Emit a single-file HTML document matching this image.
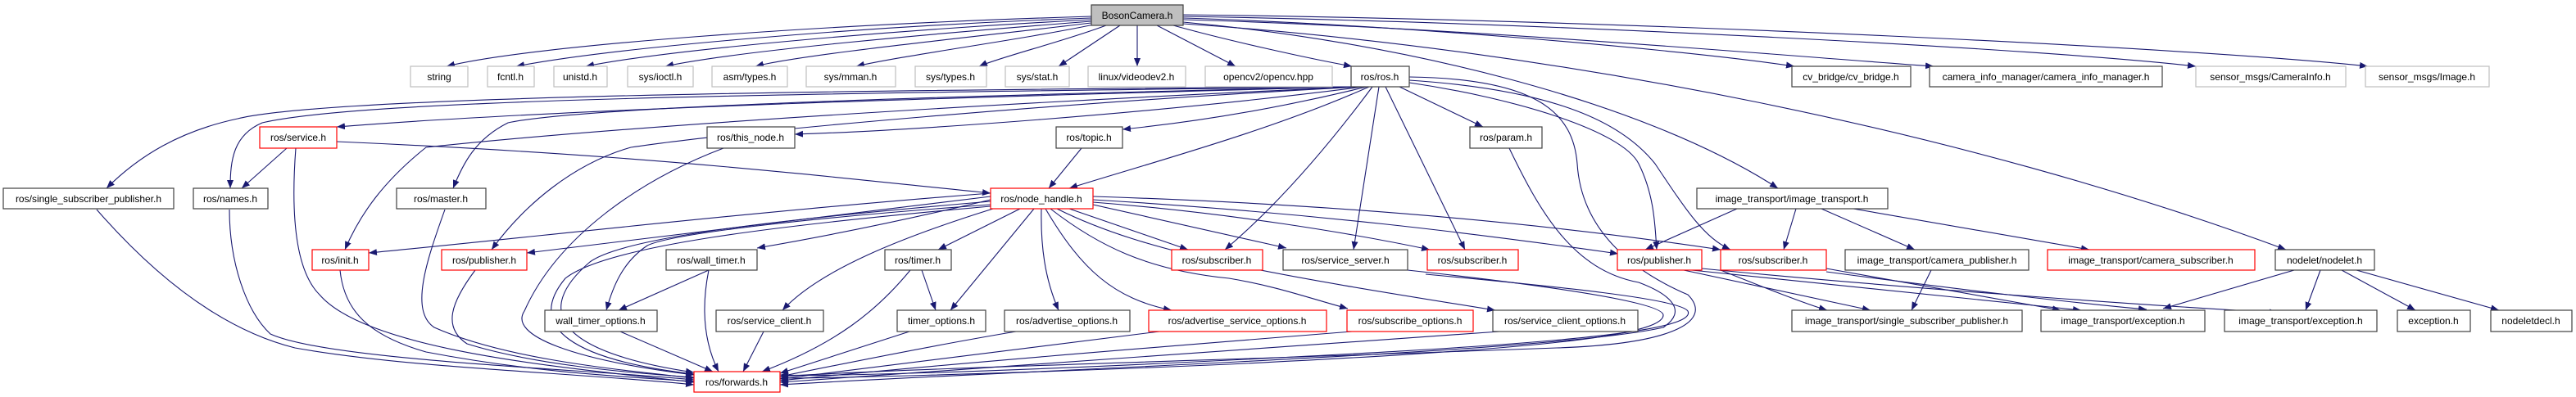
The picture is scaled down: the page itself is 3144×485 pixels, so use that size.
<!DOCTYPE html>
<html><head><meta charset="utf-8"><style>
html,body{margin:0;padding:0;background:#fff;}
svg{display:block;}
text{font-family:"Liberation Sans",Arial,sans-serif;font-size:12px;text-anchor:middle;fill:#000;}
.e{fill:none;stroke:#191970;stroke-width:1.1;marker-end:url(#a);}
.g{fill:#fff;stroke:#bfbfbf;stroke-width:1.2;}
.k{fill:#fff;stroke:#404040;stroke-width:1.2;}
.r{fill:#fff;stroke:#ff0000;stroke-width:1.2;}
</style></head><body>
<svg width="3144" height="485" viewBox="0 0 3144 485" xmlns="http://www.w3.org/2000/svg">
<defs><marker id="a" viewBox="0 0 10 8" refX="10" refY="4" markerWidth="10" markerHeight="8" markerUnits="userSpaceOnUse" orient="auto"><path d="M0,0 L10,4 L0,8 z" fill="#191970"/></marker></defs>
<g>
<!-- BosonCamera edges -->
<path class="e" d="M1332,20 C1000,30 650,55 545,81"/>
<path class="e" d="M1332,22 C1050,32 750,58 630,81"/>
<path class="e" d="M1332,24 C1100,36 820,60 715,81"/>
<path class="e" d="M1332,26 C1150,40 900,62 812,81"/>
<path class="e" d="M1332,28 C1200,44 980,66 922,81"/>
<path class="e" d="M1335,30 C1250,48 1100,68 1045,81"/>
<path class="e" d="M1350,31 C1300,50 1220,70 1195,81"/>
<path class="e" d="M1367,31 L1292,81"/>
<path class="e" d="M1388,31 L1388,81"/>
<path class="e" d="M1412,31 L1508,81"/>
<path class="e" d="M1432,31 C1500,50 1600,72 1650,81"/>
<path class="e" d="M1444,22 C1700,30 2050,60 2190,81"/>
<path class="e" d="M1444,24 C1800,34 2200,70 2360,81"/>
<path class="e" d="M1444,20 C1900,28 2500,60 2680,81"/>
<path class="e" d="M1444,18 C2000,24 2700,60 2890,81"/>
<path class="e" d="M1444,27 C1700,50 2000,120 2170,230"/>
<path class="e" d="M1444,29 C1900,60 2400,160 2790,305"/>
<!-- ros.h edges -->
<path class="e" d="M1652,106 C1200,118 700,132 411,155"/>
<path class="e" d="M1650,106 C1000,114 450,120 320,150 C285,165 281,195 281,230"/>
<path class="e" d="M1649,106 C1000,110 400,118 290,145 C220,160 170,190 130,230"/>
<path class="e" d="M1655,106 C1100,118 700,132 620,150 C580,170 565,200 553,230"/>
<path class="e" d="M1658,106 C1300,122 800,150 520,180 C470,220 440,260 421,305"/>
<path class="e" d="M1661,106 C1300,125 900,160 770,180 C700,200 640,250 600,305"/>
<path class="e" d="M1664,106 C1400,140 1100,160 970,164"/>
<path class="e" d="M1668,106 C1550,135 1450,150 1370,158"/>
<path class="e" d="M1671,106 C1550,160 1400,200 1305,230"/>
<path class="e" d="M1675,106 C1620,180 1560,250 1495,305"/>
<path class="e" d="M1683,106 L1652,305"/>
<path class="e" d="M1691,106 L1788,305"/>
<path class="e" d="M1708,106 L1810,155"/>
<path class="e" d="M1720,101 C1850,120 1980,160 2000,200 C2020,240 2020,280 2022,305"/>
<path class="e" d="M1720,98 C1900,110 1980,150 2020,200 C2060,260 2080,290 2112,305"/>
<path class="e" d="M1720,94 C1880,96 1920,140 1925,200 C1930,280 1990,330 2060,360 C2090,390 2050,420 1900,425 C1500,440 1100,450 952,460"/>
<!-- service.h -->
<path class="e" d="M350,181 L295,230"/>
<path class="e" d="M361,181 C355,260 360,330 390,360 C450,430 700,450 847,467"/>
<path class="e" d="M411,173 C800,190 1000,215 1209,236"/>
<!-- to forwards from left -->
<path class="e" d="M280,256 C280,320 300,380 330,408 C400,440 700,450 847,464"/>
<path class="e" d="M118,256 C200,350 280,405 360,425 C500,450 700,455 847,470"/>
<path class="e" d="M543,256 C520,320 500,380 530,400 C620,440 760,452 847,462"/>
<path class="e" d="M415,330 C420,380 450,410 520,430 C650,455 760,460 847,466"/>
<path class="e" d="M580,330 C550,370 540,400 570,420 C650,445 760,455 847,461"/>
<path class="e" d="M883,181 C780,220 680,290 640,380 C620,410 700,440 847,458"/>
<!-- node_handle -->
<path class="e" d="M1209,236 C900,260 650,290 450,309"/>
<path class="e" d="M1209,240 C1000,265 800,290 643,309"/>
<path class="e" d="M1209,244 C1100,270 1000,290 924,303"/>
<path class="e" d="M1209,250 C1000,265 820,285 790,300 C760,320 748,350 740,379"/>
<path class="e" d="M1245,255 L1145,305"/>
<path class="e" d="M1262,255 L1160,379"/>
<path class="e" d="M1212,255 C1100,290 1000,330 955,379"/>
<path class="e" d="M1271,255 C1270,300 1275,340 1292,379"/>
<path class="e" d="M1276,255 C1320,330 1360,365 1430,379"/>
<path class="e" d="M1282,255 C1340,300 1400,330 1500,340 C1560,350 1600,365 1645,377"/>
<path class="e" d="M1290,255 C1400,310 1550,335 1825,379"/>
<path class="e" d="M1305,255 L1450,305"/>
<path class="e" d="M1334,250 L1570,303"/>
<path class="e" d="M1334,247 C1500,260 1650,285 1745,305"/>
<path class="e" d="M1334,244 C1600,260 1800,285 1975,310"/>
<path class="e" d="M1334,240 C1650,250 1900,275 2100,305"/>
<path class="e" d="M1209,252 C950,275 740,300 690,340 C640,400 700,440 847,457"/>
<path class="e" d="M1209,246 C950,268 760,290 720,320 C650,380 680,430 847,455"/>
<!-- lower -->
<path class="e" d="M865,330 L755,379"/>
<path class="e" d="M865,330 C855,380 860,420 877,454"/>
<path class="e" d="M757,405 L870,454"/>
<path class="e" d="M932,405 L907,454"/>
<path class="e" d="M1125,330 L1142,379"/>
<path class="e" d="M1111,330 C1070,380 1020,420 930,454"/>
<path class="e" d="M1110,405 L952,456"/>
<path class="e" d="M1240,405 C1150,420 1050,440 952,460"/>
<path class="e" d="M1415,405 C1250,425 1100,445 952,463"/>
<path class="e" d="M1650,405 C1400,425 1150,445 952,465"/>
<path class="e" d="M1830,405 C1500,430 1200,450 952,467"/>
<path class="e" d="M1718,330 C1900,350 2030,370 2030,385 C2030,415 1800,430 1500,445 C1200,458 1000,462 952,462"/>
<path class="e" d="M1740,335 C1900,350 2050,365 2060,380 C2075,410 1800,425 1500,440 C1200,455 1000,460 952,458"/>
<path class="e" d="M1842,181 C1880,260 1920,330 2000,345 C2040,360 2060,380 2030,400 C1900,430 1300,450 952,470"/>
<path class="e" d="M1320,181 L1280,230"/>
<!-- image transport -->
<path class="e" d="M2120,255 L2008,305"/>
<path class="e" d="M2192,255 L2177,305"/>
<path class="e" d="M2223,255 L2337,305"/>
<path class="e" d="M2262,255 L2550,305"/>
<path class="e" d="M2055,330 L2283,379"/>
<path class="e" d="M2065,330 L2540,379"/>
<path class="e" d="M2077,328 C2300,350 2600,372 2780,382"/>
<path class="e" d="M2100,330 C2150,350 2200,370 2230,379"/>
<path class="e" d="M2229,328 L2515,379"/>
<path class="e" d="M2229,332 C2400,355 2550,372 2620,378"/>
<path class="e" d="M2357,330 L2333,379"/>
<path class="e" d="M2800,330 L2640,377"/>
<path class="e" d="M2832,330 L2814,379"/>
<path class="e" d="M2858,330 L2948,379"/>
<path class="e" d="M2876,330 L3050,379"/>
</g>
<!-- Nodes -->
<rect x="1332" y="6" width="112" height="25" fill="#bfbfbf" stroke="#404040" stroke-width="1.2"/><text x="1388" y="23">BosonCamera.h</text>
<rect class="g" x="501" y="81" width="70" height="25"/><text x="536" y="98">string</text>
<rect class="g" x="595" y="81" width="57" height="25"/><text x="623" y="98">fcntl.h</text>
<rect class="g" x="676" y="81" width="65" height="25"/><text x="708" y="98">unistd.h</text>
<rect class="g" x="766" y="81" width="80" height="25"/><text x="806" y="98">sys/ioctl.h</text>
<rect class="g" x="869" y="81" width="92" height="25"/><text x="915" y="98">asm/types.h</text>
<rect class="g" x="984" y="81" width="109" height="25"/><text x="1038" y="98">sys/mman.h</text>
<rect class="g" x="1117" y="81" width="87" height="25"/><text x="1160" y="98">sys/types.h</text>
<rect class="g" x="1227" y="81" width="78" height="25"/><text x="1266" y="98">sys/stat.h</text>
<rect class="g" x="1328" y="81" width="119" height="25"/><text x="1387" y="98">linux/videodev2.h</text>
<rect class="g" x="1471" y="81" width="155" height="25"/><text x="1548" y="98">opencv2/opencv.hpp</text>
<rect class="k" x="1649" y="81" width="71" height="25"/><text x="1684" y="98">ros/ros.h</text>
<rect class="k" x="2187" y="81" width="145" height="25"/><text x="2259" y="98">cv_bridge/cv_bridge.h</text>
<rect class="k" x="2355" y="81" width="284" height="25"/><text x="2497" y="98">camera_info_manager/camera_info_manager.h</text>
<rect class="g" x="2680" y="81" width="183" height="25"/><text x="2771" y="98">sensor_msgs/CameraInfo.h</text>
<rect class="g" x="2887" y="81" width="151" height="25"/><text x="2962" y="98">sensor_msgs/Image.h</text>

<rect class="r" x="317" y="155" width="94" height="26"/><text x="364" y="172">ros/service.h</text>
<rect class="k" x="863" y="155" width="107" height="26"/><text x="916" y="172">ros/this_node.h</text>
<rect class="k" x="1289" y="155" width="81" height="26"/><text x="1329" y="172">ros/topic.h</text>
<rect class="k" x="1794" y="155" width="88" height="26"/><text x="1838" y="172">ros/param.h</text>

<rect class="k" x="4" y="230" width="208" height="25"/><text x="108" y="247">ros/single_subscriber_publisher.h</text>
<rect class="k" x="236" y="230" width="91" height="25"/><text x="281" y="247">ros/names.h</text>
<rect class="k" x="484" y="230" width="109" height="25"/><text x="538" y="247">ros/master.h</text>
<rect class="r" x="1209" y="230" width="125" height="25"/><text x="1271" y="247">ros/node_handle.h</text>
<rect class="k" x="2071" y="230" width="233" height="25"/><text x="2187" y="247">image_transport/image_transport.h</text>

<rect class="r" x="381" y="305" width="69" height="25"/><text x="415" y="322">ros/init.h</text>
<rect class="r" x="539" y="305" width="104" height="25"/><text x="591" y="322">ros/publisher.h</text>
<rect class="k" x="813" y="305" width="111" height="25"/><text x="868" y="322">ros/wall_timer.h</text>
<rect class="k" x="1080" y="305" width="81" height="25"/><text x="1120" y="322">ros/timer.h</text>
<rect class="r" x="1430" y="305" width="111" height="25"/><text x="1485" y="322">ros/subscriber.h</text>
<rect class="k" x="1566" y="305" width="152" height="25"/><text x="1642" y="322">ros/service_server.h</text>
<rect class="r" x="1742" y="305" width="111" height="25"/><text x="1797" y="322">ros/subscriber.h</text>
<rect class="r" x="1974" y="305" width="103" height="25"/><text x="2025" y="322">ros/publisher.h</text>
<rect class="r" x="2100" y="305" width="129" height="25"/><text x="2164" y="322">ros/subscriber.h</text>
<rect class="k" x="2252" y="305" width="224" height="25"/><text x="2364" y="322">image_transport/camera_publisher.h</text>
<rect class="r" x="2499" y="305" width="253" height="25"/><text x="2625" y="322">image_transport/camera_subscriber.h</text>
<rect class="k" x="2777" y="305" width="121" height="25"/><text x="2837" y="322">nodelet/nodelet.h</text>

<rect class="k" x="665" y="379" width="137" height="26"/><text x="733" y="396">wall_timer_options.h</text>
<rect class="k" x="874" y="379" width="131" height="26"/><text x="939" y="396">ros/service_client.h</text>
<rect class="k" x="1095" y="379" width="108" height="26"/><text x="1149" y="396">timer_options.h</text>
<rect class="k" x="1226" y="379" width="153" height="26"/><text x="1302" y="396">ros/advertise_options.h</text>
<rect class="r" x="1402" y="379" width="217" height="26"/><text x="1510" y="396">ros/advertise_service_options.h</text>
<rect class="r" x="1644" y="379" width="154" height="26"/><text x="1721" y="396">ros/subscribe_options.h</text>
<rect class="k" x="1822" y="379" width="177" height="26"/><text x="1910" y="396">ros/service_client_options.h</text>
<rect class="k" x="2187" y="379" width="281" height="26"/><text x="2327" y="396">image_transport/single_subscriber_publisher.h</text>
<rect class="k" x="2491" y="379" width="200" height="26"/><text x="2591" y="396">image_transport/exception.h</text>
<rect class="k" x="2715" y="379" width="186" height="26"/><text x="2808" y="396">image_transport/exception.h</text>
<rect class="k" x="2926" y="379" width="89" height="26"/><text x="2970" y="396">exception.h</text>
<rect class="k" x="3040" y="379" width="99" height="26"/><text x="3089" y="396">nodeletdecl.h</text>

<rect class="r" x="847" y="454" width="105" height="25"/><text x="899" y="471">ros/forwards.h</text>
</svg>
</body></html>
